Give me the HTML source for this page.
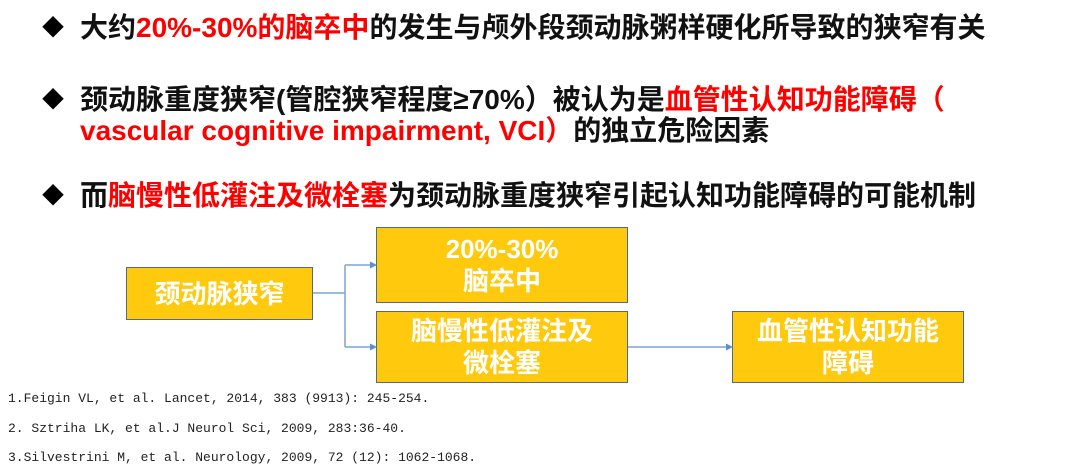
<!DOCTYPE html>
<html><head><meta charset="utf-8"><style>
body{margin:0;width:1080px;height:470px;background:#fff;position:relative;overflow:hidden;font-family:"Liberation Sans","Noto Sans CJK SC",sans-serif;}
.l{position:absolute;left:80px;font-size:28px;font-weight:bold;color:#111;white-space:nowrap;line-height:30px;}
.d{position:absolute;left:42px;font-size:22px;color:#000;line-height:30px;}
.r{color:#ff0000;}
.b{position:absolute;background:#ffc90e;border:1.5px solid #4e6b8a;box-sizing:border-box;color:#fff;font-weight:bold;font-size:26px;display:flex;align-items:center;justify-content:center;text-align:center;line-height:32px;}
.ref{position:absolute;left:8px;font-family:"Liberation Mono","Noto Sans CJK SC",monospace;font-size:13px;color:#222;white-space:nowrap;}
</style></head><body>
<div class="d" style="top:13px">◆</div>
<div class="l" style="top:13px">大约<span class="r">20%-30%的脑卒中</span>的发生与颅外段颈动脉粥样硬化所导致的狭窄有关</div>
<div class="d" style="top:85px">◆</div>
<div class="l" style="top:85px">颈动脉重度狭窄(管腔狭窄程度≥70%）被认为是<span class="r">血管性认知功能障碍（</span></div>
<div class="l" style="top:116px"><span class="r">vascular cognitive impairment, VCI）</span>的独立危险因素</div>
<div class="d" style="top:181px">◆</div>
<div class="l" style="top:181px">而<span class="r">脑慢性低灌注及微栓塞</span>为颈动脉重度狭窄引起认知功能障碍的可能机制</div>

<div class="b" style="left:126px;top:267px;width:187px;height:53px;">颈动脉狭窄</div>
<div class="b" style="left:376px;top:227px;width:252px;height:76px;">20%-30%<br>脑卒中</div>
<div class="b" style="left:376px;top:311px;width:252px;height:72px;">脑慢性低灌注及<br>微栓塞</div>
<div class="b" style="left:732px;top:311px;width:232px;height:72px;">血管性认知功能<br>障碍</div>

<svg style="position:absolute;left:0;top:0" width="1080" height="470">
<g stroke="#7aa3d4" stroke-width="1.5" fill="none">
<polyline points="313,293 345,293"/>
<polyline points="345,265 345,347"/>
<polyline points="345,265 371,265"/>
<polyline points="345,347 371,347"/>
<polyline points="628,347 727,347"/>
</g>
<g fill="#5b8fd0">
<polygon points="377,265 370,261.5 370,268.5"/>
<polygon points="377,347 370,343.5 370,350.5"/>
<polygon points="733,347 726,343.5 726,350.5"/>
</g>
</svg>

<div class="ref" style="top:391px">1.Feigin VL, et al. Lancet, 2014, 383 (9913): 245-254.</div>
<div class="ref" style="top:421px">2. Sztriha LK, et al.J Neurol Sci, 2009, 283:36-40.</div>
<div class="ref" style="top:450px">3.Silvestrini M, et al. Neurology, 2009, 72 (12): 1062-1068.</div>
</body></html>
